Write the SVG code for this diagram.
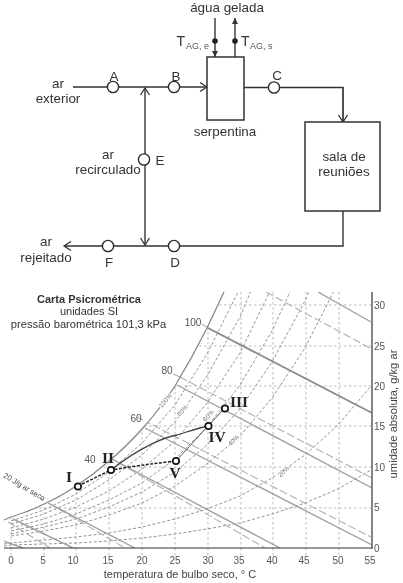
<svg xmlns="http://www.w3.org/2000/svg" width="403" height="583" viewBox="0 0 403 583">
<style>
text{font-family:"Liberation Sans",Arial,sans-serif;fill:#333;text-anchor:middle}
.t{font-size:13.4px}
.c{fill:none;stroke:#333;stroke-width:1.4}
.n{fill:#fff;stroke:#2a2a2a;stroke-width:1.4}
.b{fill:#fff;stroke:#333;stroke-width:1.5}
.grid{fill:none;stroke:#bbb;stroke-width:1;stroke-dasharray:2.5 2.5}
.rh{fill:none;stroke:#949494;stroke-width:1;stroke-dasharray:3 2}
.h{stroke:#a0a0a0;stroke-width:1.4;fill:none}
.wb{stroke:#b0b0b0;stroke-width:1.1;stroke-dasharray:8 3;fill:none}
.ax{font-size:10px;fill:#555}
.pct{font-size:6.5px;fill:#777;paint-order:stroke;stroke:#fff;stroke-width:2}
.rom{font-family:"Liberation Serif","Times New Roman",serif;font-weight:bold;font-size:15.5px;fill:#222}
.m{fill:#fff;stroke:#151515;stroke-width:1.7}
</style>
<defs>
<filter id="soft" x="0" y="0" width="100%" height="100%"><feGaussianBlur stdDeviation="0.35"/></filter>
<marker id="v" markerUnits="userSpaceOnUse" markerWidth="12" markerHeight="12" refX="8" refY="6" orient="auto"><path d="M1,1.5 L8,6 L1,10.5" fill="none" stroke="#333" stroke-width="1.3"/></marker>
<marker id="f" markerUnits="userSpaceOnUse" markerWidth="8" markerHeight="8" refX="6" refY="4" orient="auto"><path d="M0,1 L6,4 L0,7 Z" fill="#333"/></marker>
<clipPath id="chart"><path d="M4,520 L11,517 Q28,512 44,504 Q60,497 76,486 Q93,475 109,461 Q126,447 142,429 Q160,409 175,386 Q192,358 207,328 L224,292 L372,292 L372,548 L4,548 Z"/></clipPath>
</defs>
<g filter="url(#soft)">
<g id="connectors">
<path class="c" d="M73,87 H207" marker-end="url(#v)"/>
<path class="c" d="M145,160 V88" marker-end="url(#v)"/>
<path class="c" d="M145,160 V245" marker-end="url(#v)"/>
<path class="c" style="stroke-width:1.7" d="M244,87.5 H343 V122" marker-end="url(#v)"/>
<path class="c" d="M343,211 V246 H64" marker-end="url(#v)"/>
<path class="c" d="M215,18 V57" marker-end="url(#f)"/>
<path class="c" d="M235,57 V18" marker-end="url(#f)"/>
<circle cx="215" cy="41" r="2.8" fill="#222"/>
<circle cx="235" cy="41" r="2.8" fill="#222"/>
</g>

<g id="node-agua"><text class="t" x="227" y="12">água gelada</text></g>
<g id="node-tage"><text x="176.5" y="46" style="font-size:14px;text-anchor:start">T</text><text x="186" y="49" style="font-size:9px;text-anchor:start;fill:#555">AG, e</text></g>
<g id="node-tags"><text x="241" y="46" style="font-size:14px;text-anchor:start">T</text><text x="250" y="49" style="font-size:9px;text-anchor:start;fill:#555">AG, s</text></g>
<g id="node-exterior"><text class="t" x="58" y="88">ar</text><text class="t" x="58" y="103">exterior</text></g>
<g id="node-a"><circle class="n" cx="113" cy="87" r="5.6"/><text class="t" x="114" y="81">A</text></g>
<g id="node-b"><circle class="n" cx="174" cy="87" r="5.6"/><text class="t" x="176" y="81">B</text></g>
<g id="node-c"><circle class="n" cx="274" cy="87.5" r="5.6"/><text class="t" x="277" y="80">C</text></g>
<g id="node-serpentina"><rect class="b" x="207" y="57" width="37" height="63"/><text class="t" x="225" y="136">serpentina</text></g>
<g id="node-sala"><rect class="b" x="305" y="122" width="75" height="89"/><text class="t" x="344" y="161">sala de</text><text class="t" x="344" y="176">reuniões</text></g>
<g id="node-e"><circle class="n" cx="144" cy="159.5" r="5.6"/><text class="t" x="160" y="165">E</text></g>
<g id="node-recirculado"><text class="t" x="108" y="159">ar</text><text class="t" x="108" y="174">recirculado</text></g>
<g id="node-d"><circle class="n" cx="174" cy="246" r="5.6"/><text class="t" x="175" y="267">D</text></g>
<g id="node-f"><circle class="n" cx="108" cy="246" r="5.6"/><text class="t" x="109" y="267">F</text></g>
<g id="node-rejeitado"><text class="t" x="46" y="246">ar</text><text class="t" x="46" y="262">rejeitado</text></g>

<g id="chart-title">
<text x="89" y="303" style="font-size:11px;font-weight:bold">Carta Psicrométrica</text>
<text x="89" y="315" style="font-size:11px">unidades SI</text>
<text x="88.5" y="328" style="font-size:11.2px">pressão barométrica 101,3 kPa</text>
</g>

<g id="chart-lines">
<g clip-path="url(#chart)">
<path class="grid" d="M11,292V548M44,292V548M76,292V548M109,292V548M142,292V548M175,292V548M208,292V548M241,292V548M273,292V548M306,292V548M339,292V548"/>
<path class="grid" d="M4,508H372M4,467H372M4,426H372M4,386H372M4,346H372M4,305H372"/>
<path class="rh" d="M11,521 L44,510 76,494 109,472 142,443 175,405 207,354 240,288"/>
<path class="rh" d="M11,524 L44,514 76,500 109,480 142,455 175,422 207,376 240,317 272,240"/>
<path class="rh" d="M11,528 L44,519 76,507 109,491 142,469 175,441 207,403 240,353 272,287 305,201"/>
<path class="rh" d="M11,531 L44,524 76,514 109,500 142,483 175,459 207,427 240,385 272,331 305,259"/>
<path class="rh" d="M11,534 L44,527 76,519 109,507 142,492 175,472 207,445 240,409 272,362 305,301 338,220"/>
<path class="rh" d="M11,536 L44,531 76,525 109,515 142,503 175,486 207,464 240,436 272,398 305,348 338,283"/>
<path class="rh" d="M4,544 L11,543 44,540 76,537 109,533 142,527 175,519 207,509 240,496 272,478 305,455 338,425 371,386"/>
<path class="rh" d="M4,546 L11,545 44,544 76,543 109,541 142,538 175,534 207,529 240,523 272,514 305,503 338,489 371,470"/>
<path class="wb" d="M266,292 L370,348M180,377 L372,478M143,420 L371,537M100,452 L265,548M40,498 L125,548M8,522 L50,548"/>
<path class="h" d="M318,292 L371,322M177,385 L372,488M145,428 L372,545M110,458 L280,548M48,503 L135,548M13,519 L73,548M3,541 L23,548"/>
<path class="h" style="stroke-width:1.9;stroke:#8c8c8c" d="M208,328 L372,413"/>
</g>
<path class="grid" d="M11,548V556M44,548V556M76,548V556M109,548V556M142,548V556M175,548V556M208,548V556M241,548V556M273,548V556M306,548V556M339,548V556"/>
<path class="wb" d="M202,324 L208,328M173,374 L180,377M137,417 L143,420M43,500 L40,498"/>
<path d="M4,520 L11,517 Q28,512 44,504 Q60,497 76,486 Q93,475 109,461 Q126,447 142,429 Q160,409 175,386 Q192,358 207,328 L224,292" fill="none" stroke="#888" stroke-width="1.3"/>
<path d="M4,548 H372" stroke="#333" stroke-width="1.2"/>
<path d="M372,292 V549" stroke="#666" stroke-width="1.6"/>
</g>

<g id="chart-axes">
<text class="ax" x="11" y="564">0</text><text class="ax" x="43" y="564">5</text><text class="ax" x="73" y="564">10</text><text class="ax" x="108" y="564">15</text><text class="ax" x="142" y="564">20</text><text class="ax" x="175" y="564">25</text><text class="ax" x="208" y="564">30</text><text class="ax" x="239" y="564">35</text><text class="ax" x="272" y="564">40</text><text class="ax" x="304" y="564">45</text><text class="ax" x="338" y="564">50</text><text class="ax" x="370" y="564">55</text>
<text x="180" y="578" style="font-size:11px;fill:#444">temperatura de bulbo seco, ° C</text>
<text class="ax" x="374" y="552" style="text-anchor:start">0</text><text class="ax" x="374" y="511" style="text-anchor:start">5</text><text class="ax" x="374" y="471" style="text-anchor:start">10</text><text class="ax" x="374" y="430" style="text-anchor:start">15</text><text class="ax" x="374" y="390" style="text-anchor:start">20</text><text class="ax" x="374" y="350" style="text-anchor:start">25</text><text class="ax" x="374" y="309" style="text-anchor:start">30</text>
<text transform="translate(397,414) rotate(-90)" style="font-size:11.2px;fill:#444">umidade absoluta, g/kg ar</text>
<text class="ax" x="193" y="326">100</text><text class="ax" x="167" y="374">80</text><text class="ax" x="136" y="422">60</text><text class="ax" x="90" y="463">40</text>
<text transform="translate(23,489) rotate(31)" style="font-size:7.5px;fill:#444">20 J/g ar seco</text>
<text class="pct" transform="translate(167,402) rotate(-50)">100%</text>
<text class="pct" transform="translate(184,412) rotate(-50)">80%</text>
<text class="pct" transform="translate(210,417) rotate(-50)">60%</text>
<text class="pct" transform="translate(235,442) rotate(-45)">40%</text>
<text class="pct" transform="translate(285,473) rotate(-45)">20%</text>
</g>

<g id="process-lines">
<path d="M111,470 C140,447 165,437 177,435 C190,431 198,428 208,426" fill="none" stroke="#444" stroke-width="1.3"/>
<path d="M176,461 L208,426 L225,408" fill="none" stroke="#555" stroke-width="1"/>
<path d="M78,486 L111,470 Q140,465 176,461" fill="none" stroke="#222" stroke-width="1.5" stroke-dasharray="3 1.5"/>
</g>
<g id="point-i"><circle class="m" cx="78" cy="486.5" r="3.2"/><text class="rom" x="69" y="482">I</text></g>
<g id="point-ii"><circle class="m" cx="111" cy="470" r="3.2"/><text class="rom" x="108" y="463">II</text></g>
<g id="point-iii"><circle class="m" cx="225" cy="408.5" r="3.2"/><text class="rom" x="239" y="407">III</text></g>
<g id="point-iv"><circle class="m" cx="208.5" cy="426" r="3.2"/><text class="rom" x="217" y="442">IV</text></g>
<g id="point-v"><circle class="m" cx="176" cy="461" r="3.2"/><text class="rom" x="175" y="478">V</text></g>
</g>
</svg>
